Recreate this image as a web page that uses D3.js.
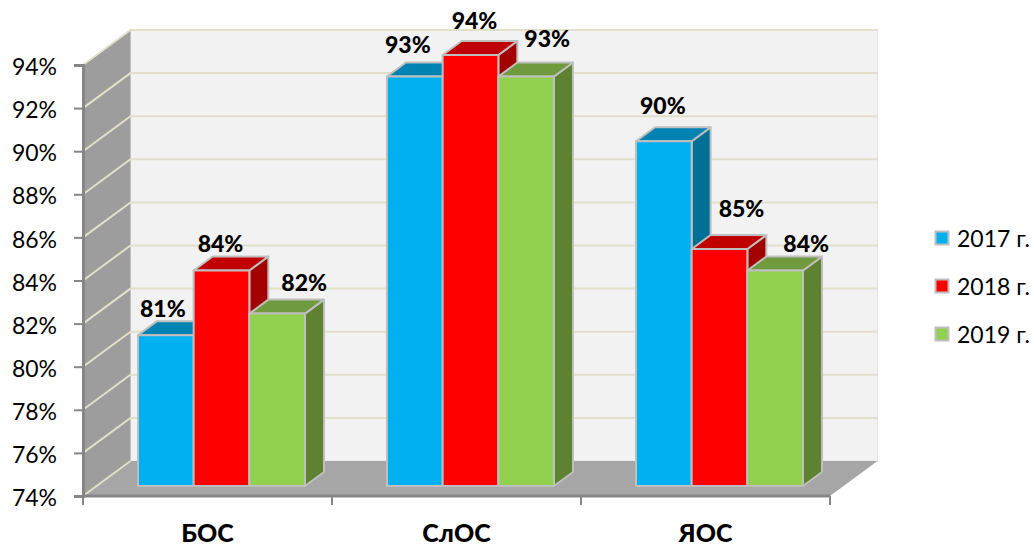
<!DOCTYPE html>
<html><head><meta charset="utf-8">
<script src="https://cdn.jsdelivr.net/npm/d3@7/dist/d3.min.js"></script>
<style>html,body{margin:0;background:#fff}svg{display:block}text{font-family:Lato,"Open Sans",sans-serif;fill:#000}</style>
</head><body><svg id="c" width="1034" height="546"></svg>
<script>
const categories = ["БОС","СлОС","ЯОС"];
const seriesNames = ["2017 г.","2018 г.","2019 г."];
const values2017 = [81,93,90];
const values2018 = [84,94,85];
const values2019 = [82,93,84];
const seriesValues = [values2017,values2018,values2019];
const yTicks = [74,76,78,80,82,84,86,88,90,92,94];

const svg = d3.select("#c");
const depth = {x:47.5,y:-35}, barDepth = {x:19,y:-14}, barShift = {x:13.5,y:-10};
const x0 = d3.scaleBand().domain(categories).range([83,830]);
const x1 = d3.scaleBand().domain(seriesNames).range([41.5,208.5]);
const y = d3.scaleLinear().domain([74,94]).range([496,65]);
const fills = d3.scaleOrdinal().domain(seriesNames).range(["#00b0f0","#ff0000","#92d050"]);
const tops = d3.scaleOrdinal().domain(seriesNames).range(["#0083b3","#c00000","#6f9a3d"]);
const sides = d3.scaleOrdinal().domain(seriesNames).range(["#006f96","#a30000","#5e8232"]);
const pts = a => a.map(p=>p.join(",")).join(" ");
const [xL,xR] = x0.range(), yB = y(74), yT = y(94);

// walls and floor
svg.append("polygon").attr("points",pts([[xL+depth.x,yT+depth.y],[xR+depth.x,yT+depth.y],[xR+depth.x,yB+depth.y],[xL+depth.x,yB+depth.y]])).attr("fill","#f2f2f2").attr("stroke","#e4e4e4");
svg.append("polygon").attr("points",pts([[xL,yT],[xL+depth.x,yT+depth.y],[xL+depth.x,yB+depth.y],[xL,yB]])).attr("fill","#9d9d9d");
svg.append("polygon").attr("points",pts([[xL,yB],[xR,yB],[xR+depth.x,yB+depth.y],[xL+depth.x,yB+depth.y]])).attr("fill","#a6a6a6");

// gridlines
const grid = svg.append("g").attr("fill","none").attr("stroke","#e2dfcb").attr("stroke-width",2);
yTicks.forEach(t=>{
  if(t===74){
    grid.append("line").attr("x1",xL).attr("y1",y(t)).attr("x2",xL+depth.x).attr("y2",y(t)+depth.y);
    return;
  }
  grid.append("polyline").attr("points",pts([[xL,y(t)],[xL+depth.x,y(t)+depth.y],[xR+depth.x,y(t)+depth.y]]));
});

// bars
const bars = svg.append("g").attr("stroke","#bfbfbf").attr("stroke-width",2).attr("stroke-linejoin","round");
categories.forEach((c,ci)=>{
  seriesNames.forEach((s,si)=>{
    const v = seriesValues[si][ci];
    const l = x0(c)+x1(s)+barShift.x, w = x1.bandwidth(), r = l+w;
    const t = y(v)+barShift.y, b = y(74)+barShift.y;
    const dx = barDepth.x, dy = barDepth.y;
    bars.append("polygon").attr("points",pts([[r,t],[r+dx,t+dy],[r+dx,b+dy],[r,b]])).attr("fill",sides(s));
    bars.append("polygon").attr("points",pts([[l,t],[l+dx,t+dy],[r+dx,t+dy],[r,t]])).attr("fill",tops(s));
    bars.append("rect").attr("x",l).attr("y",t).attr("width",w).attr("height",b-t).attr("fill",fills(s));
  });
});

// data labels
const labelNudge = [
  [[-3,-27],[-1,-28],[27,-32]],
  [[-7,-33],[4,-35],[21,-39]],
  [[-1,-36],[22,-41],[31,-28]]
];
categories.forEach((c,ci)=>{
  seriesNames.forEach((s,si)=>{
    const v = seriesValues[si][ci];
    const cx = x0(c)+x1(s)+barShift.x+x1.bandwidth()/2;
    const n = labelNudge[ci][si];
    svg.append("text").attr("x",cx+n[0]).attr("y",y(v)+barShift.y+n[1]).attr("text-anchor","middle").attr("dominant-baseline","central")
      .attr("font-size",23).attr("font-weight",900).text(v+"%");
  });
});

// axes
const yAxis = svg.append("g").attr("transform",`translate(${xL},0)`).call(d3.axisLeft(y).tickValues(yTicks).tickFormat(d=>d+"%").tickSize(9).tickPadding(17));
yAxis.selectAll("path").attr("stroke","#868686").attr("stroke-width",3);
yAxis.selectAll("line").attr("stroke","#868686").attr("stroke-width",2);
yAxis.selectAll("text").attr("font-size",23).attr("font-family","Lato").attr("dy","0.42em");

const xAxis = svg.append("g").attr("transform",`translate(0,${yB})`).call(d3.axisBottom(x0).tickSize(0).tickPadding(28));
xAxis.selectAll("path").attr("stroke","#868686").attr("stroke-width",3).attr("d",`M${xL},0H${xR}`);
xAxis.selectAll("text").attr("font-size",25).attr("font-weight",900).attr("font-family","Lato");
const edges = categories.map(c=>x0(c)).concat([xR]);
xAxis.selectAll("line.edge").data(edges).join("line").attr("class","edge").attr("x1",d=>d).attr("x2",d=>d).attr("y1",0).attr("y2",9).attr("stroke","#868686").attr("stroke-width",2);

// legend
const leg = svg.append("g");
seriesNames.forEach((s,i)=>{
  const ly = 238+i*48;
  leg.append("rect").attr("x",935.5).attr("y",ly-6.5).attr("width",13).attr("height",13).attr("fill",fills(s)).attr("stroke","#bfbfbf").attr("stroke-width",2);
  leg.append("text").attr("x",957).attr("y",ly).attr("dominant-baseline","central").attr("font-size",23).text(s);
});
</script></body></html>
